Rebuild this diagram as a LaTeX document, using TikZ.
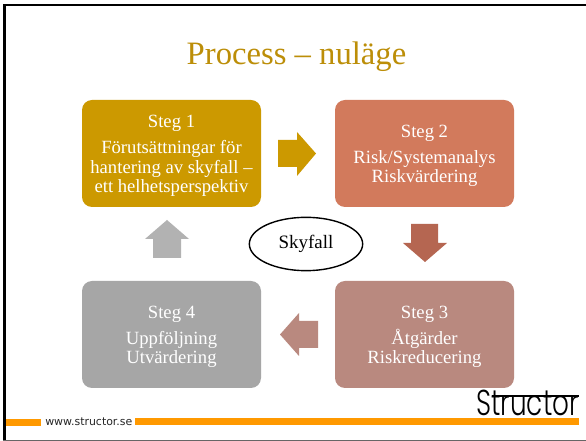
\documentclass[tikz,border=0pt]{standalone}
\usepackage{fontspec}
\setmainfont{Liberation Serif}
\newfontfamily\footfont{DejaVu Sans}
\newfontfamily\logofont{Poppins Light}
\usetikzlibrary{shapes.geometric}
\definecolor{cone}{HTML}{CC9900}
\definecolor{ctitle}{HTML}{BC8E08}
\definecolor{ctwo}{HTML}{D27A5C}
\definecolor{cthree}{HTML}{B9897F}
\definecolor{cfour}{HTML}{A6A6A6}
\definecolor{cdown}{HTML}{B56651}
\definecolor{cup}{HTML}{B2B2B2}
\definecolor{corange}{HTML}{FF9900}
\tikzset{x=0.75pt,y=-0.75pt,
 stepbox/.style={draw=none,rounded corners=7.5pt,minimum width=134.25pt,minimum height=80.25pt,inner sep=0pt,align=center,text=white,font=\fontsize{14}{14.6}\selectfont},
 bar/.style={fill=corange,draw=none}}
\newcommand{\steghead}[1]{\rule{0pt}{13pt}{#1}\\[5pt]}
\begin{document}
\begin{tikzpicture}
\useasboundingbox (0,0) rectangle (586,441);
\fill[white] (0,0) rectangle (586,441);
% slide frame
\fill[black] (3,4) rectangle (6,440);
\fill[black] (3,4) rectangle (586,6.5);
\fill[black!60] (3,439.7) rectangle (586,441);
\node[text=ctitle,font=\fontsize{24.5}{26}\selectfont,inner sep=0pt] (title) at (296.5,57) {Process – nuläge};
\node[stepbox,fill=cone] (s1) at (171.5,153.5) {\steghead{Steg 1}Förutsättningar för\\hantering av skyfall –\\ett helhetsperspektiv};
\node[stepbox,fill=ctwo] (s2) at (424.5,153.5) {\steghead{Steg 2}Risk/Systemanalys\\Riskvärdering};
\node[stepbox,fill=cthree] (s3) at (424.5,334.5) {\steghead{Steg 3}Åtgärder\\Riskreducering};
\node[stepbox,fill=cfour] (s4) at (171.5,334.5) {\steghead{Steg 4}Uppföljning\\Utvärdering};
\fill[cone] (278,140) -- (297,140) -- (297,132) -- (316,153.5) -- (297,176) -- (297,167) -- (278,167) -- cycle;
\fill[cdown] (411,224) -- (438,224) -- (438,243) -- (447,243) -- (425,262) -- (403,243) -- (411,243) -- cycle;
\fill[cthree] (318,321) -- (299,321) -- (299,313) -- (280,334.5) -- (299,356) -- (299,348) -- (318,348) -- cycle;
\fill[cup] (153,258) -- (181,258) -- (181,239) -- (189,239) -- (167,220) -- (145,239) -- (153,239) -- cycle;
\node[draw=black,line width=1.05pt,ellipse,minimum width=85pt,minimum height=40pt,inner sep=0pt,font=\fontsize{14.2}{15}\selectfont] (sky) at (306,244) {Skyfall};
% footer
\fill[bar] (6,419) rectangle (41,426);
\fill[bar] (135,418) rectangle (579,425);
\node[anchor=west,inner sep=0pt,font=\footfont\fontsize{8.2}{9}\selectfont,text=black!85] (web) at (45,421.5) {www.structor.se};
\node[anchor=east,inner sep=0pt,font=\logofont\fontsize{27}{28}\selectfont,xscale=0.73] (logo) at (579,403) {Structor};
\fill[black] (492,395.5) rectangle (579,396.7);
\end{tikzpicture}
\end{document}
